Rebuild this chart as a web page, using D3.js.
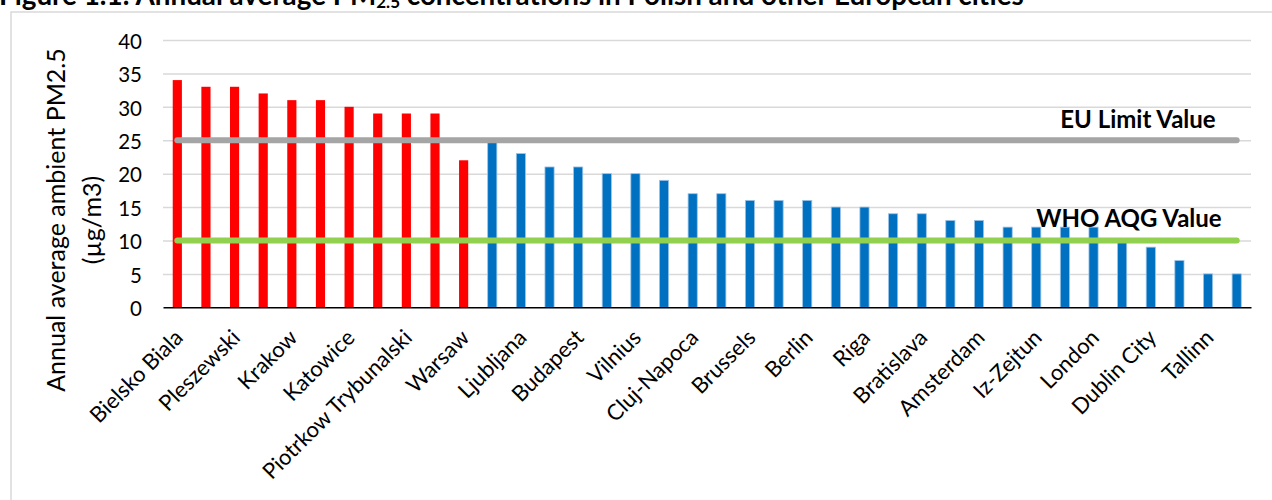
<!DOCTYPE html>
<html>
<head>
<meta charset="utf-8">
<script src="https://cdn.jsdelivr.net/npm/d3@7"></script>
<style>
  body { margin: 0; background: #fff; }
  svg { display: block; }
  text { font-family: Lato, "Open Sans", sans-serif; fill: #000; }
</style>
</head>
<body>
<svg id="chart" width="1272" height="500"></svg>
<script>
// ---------------- data ----------------
const titleStart = "Figure 1.1: Annual average PM";
const titleSub = "2.5";
const titleEnd = " concentrations in Polish and other European cities";

// labels shown on every other bar (Excel skipped the others)
const tickLabels = ["Bielsko Biala", "Pleszewski", "Krakow", "Katowice", "Piotrkow Trybunalski",
  "Warsaw", "Ljubljana", "Budapest", "Vilnius", "Cluj-Napoca", "Brussels", "Berlin", "Riga",
  "Bratislava", "Amsterdam", "Iz-Zejtun", "London", "Dublin City", "Tallinn"];

// annual average PM2.5 (µg/m3)
const polishValues = [34, 33, 33, 32, 31, 31, 30, 29, 29, 29, 22];
const otherValues = [25, 23, 21, 21, 20, 20, 19, 17, 17, 16, 16, 16, 15, 15,
  14, 14, 13, 13, 12, 12, 12, 12, 10, 9, 7, 5, 5];

const yTicks = [0, 5, 10, 15, 20, 25, 30, 35, 40];
const yTitle1 = "Annual average ambient PM2.5";
const yTitle2 = "(µg/m3)";

const refNames = ["EU Limit Value", "WHO AQG Value"];
const refValues = [25, 10];
const refColors = ["#A5A5A5", "#92D050"];

// ---------------- build ----------------
const bars = polishValues.map(v => ({ v, group: "pl" }))
  .concat(otherValues.map(v => ({ v, group: "other" })));
bars.forEach((d, i) => { d.i = i; d.label = (i % 2 === 0) ? tickLabels[i / 2] : ""; });

const svg = d3.select("#chart");
const plotLeft = 163, plotRight = 1251, plotTop = 40, plotBottom = 307.3;

const x = d3.scaleBand().domain(d3.range(bars.length)).range([plotLeft, plotRight]).paddingInner(0.68).paddingOuter(0.34);
const y = d3.scaleLinear().domain([0, 40]).range([plotBottom, plotTop]);

// frame
svg.append("rect").attr("x", 11).attr("y", 12).attr("width", 1300).attr("height", 520)
  .attr("fill", "none").attr("stroke", "#D9D9D9").attr("stroke-width", 1.5);

// title (cut off at top like the reference)
const t = svg.append("text").attr("x", -1).attr("y", 5).attr("font-weight", "bold").attr("font-size", 27.8);
t.append("tspan").text(titleStart);
t.append("tspan").attr("font-size", 17).attr("dy", 3).text(titleSub);
t.append("tspan").attr("dy", -3).text(titleEnd);

// gridlines
svg.append("g").attr("transform", `translate(${plotLeft},0)`)
  .call(d3.axisLeft(y).tickValues(yTicks.filter(v => v > 0)).tickSize(-(plotRight - plotLeft)).tickFormat(""))
  .call(g => g.select(".domain").remove())
  .call(g => g.selectAll("line").attr("stroke", "#D9D9D9").attr("stroke-width", 1.5));

// y tick labels
svg.append("g").attr("transform", `translate(${plotLeft},0)`)
  .call(d3.axisLeft(y).tickValues(yTicks).tickSize(0).tickPadding(21))
  .call(g => g.select(".domain").remove())
  .call(g => g.selectAll("text").attr("font-size", 20.5).attr("font-family", "Lato").attr("fill", "#000").attr("dy", "0.4em"));

// bars
svg.append("g").selectAll("rect").data(bars).join("rect")
  .attr("x", d => x(d.i))
  .attr("width", x.bandwidth())
  .attr("y", d => y(d.v))
  .attr("height", d => y(0) - y(d.v))
  .attr("fill", d => d.group === "pl" ? "#FF0000" : "#0070C0")
  .attr("stroke", d => d.group === "pl" ? "none" : "#9DC3E6")
  .attr("stroke-width", 0.8);

// x axis line
svg.append("g").attr("transform", `translate(0,${y(0)})`)
  .call(d3.axisBottom(x).tickSize(0).tickFormat(""))
  .call(g => g.select(".domain").attr("stroke", "#000").attr("stroke-width", 1.6));

// x labels rotated
svg.append("g").selectAll("text").data(bars.filter(d => d.label)).join("text")
  .attr("transform", d => `translate(${x(d.i) + x.bandwidth() / 2 + 7},339) rotate(-45)`)
  .attr("text-anchor", "end")
  .attr("font-size", 22)
  .text(d => d.label);

// reference lines
const cx = i => x(i) + x.bandwidth() / 2;
const line = d3.line().x(d => cx(d.i)).y(d => y(d.v));
refValues.forEach((rv, k) => {
  const pts = bars.map(b => ({ i: b.i, v: rv }));
  svg.append("path").datum(pts).attr("d", line)
    .attr("fill", "none").attr("stroke", refColors[k]).attr("stroke-width", 6)
    .attr("stroke-linecap", "round");
});

// reference labels
svg.append("text").attr("x", cx(bars.length - 1) - 21).attr("y", y(refValues[0]) - 12)
  .attr("text-anchor", "end").attr("font-weight", "bold").attr("font-size", 24).text(refNames[0]);
svg.append("text").attr("x", cx(bars.length - 1) - 15).attr("y", y(refValues[1]) - 13)
  .attr("text-anchor", "end").attr("font-weight", "bold").attr("font-size", 24).text(refNames[1]);

// y axis title
const midY = 220;
svg.append("text").attr("transform", `translate(65,${midY}) rotate(-90)`).attr("text-anchor", "middle")
  .attr("font-size", 25).text(yTitle1);
svg.append("text").attr("transform", `translate(101,${midY}) rotate(-90)`).attr("text-anchor", "middle")
  .attr("font-size", 25).text(yTitle2);
</script>
</body>
</html>
